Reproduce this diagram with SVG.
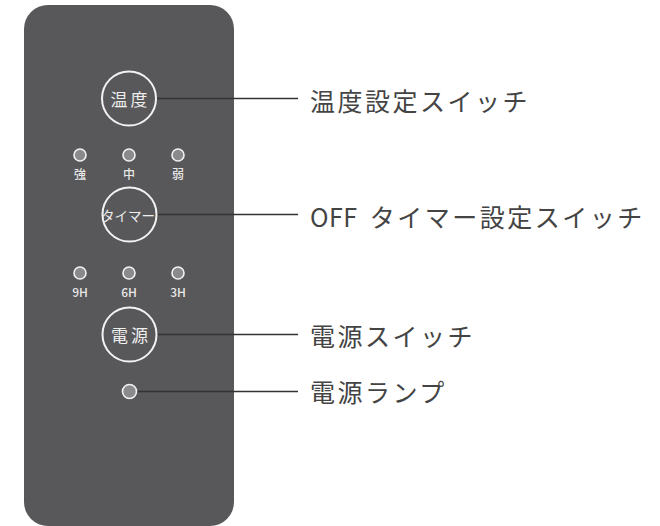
<svg xmlns="http://www.w3.org/2000/svg" width="660" height="526" viewBox="0 0 660 526">
<style>
.btn{fill:none;stroke:#f2f2f2;stroke-width:2}
.led{fill:#8a8a8c;stroke:#f2f2f2;stroke-width:1.6}
.btxt{fill:#eeeeee;font-family:"Noto Sans CJK JP","Noto Sans",sans-serif;text-anchor:middle;dominant-baseline:central}
.small{fill:#e8e8e8;font-family:"Noto Sans CJK JP","Noto Sans",sans-serif;font-size:12px;font-weight:500;text-anchor:middle;dominant-baseline:central}
.lbl{fill:#444444;font-family:"Noto Sans CJK JP","Noto Sans",sans-serif;font-size:25px;letter-spacing:2.5px;dominant-baseline:central}
.conn{stroke:#333333;stroke-width:1.4;fill:none}
</style>
<rect x="24" y="5" width="210" height="521" rx="24" fill="#58585a"/>
<g id="connectors">
<line class="conn" x1="157" y1="98.5" x2="298" y2="98.5"/>
<line class="conn" x1="157" y1="214.5" x2="298" y2="214.5"/>
<line class="conn" x1="157" y1="334.5" x2="298" y2="334.5"/>
<line class="conn" x1="137" y1="391.5" x2="298" y2="391.5"/>
</g>
<g id="temp-switch">
<circle class="btn" cx="129" cy="98.5" r="27"/>
<text class="btxt" x="130.5" y="98.5" font-size="17" letter-spacing="3">温度</text>
</g>
<g id="temp-leds">
<circle class="led" cx="80" cy="155" r="6"/>
<circle class="led" cx="129" cy="155" r="6"/>
<circle class="led" cx="178" cy="155" r="6"/>
<text class="small" x="80" y="173">強</text>
<text class="small" x="129" y="173">中</text>
<text class="small" x="178" y="173">弱</text>
</g>
<g id="timer-switch">
<circle class="btn" cx="129.5" cy="214.5" r="27"/>
<text class="btxt" x="128" y="214.5" font-size="13.5">タイマー</text>
</g>
<g id="timer-leds">
<circle class="led" cx="80" cy="273" r="6"/>
<circle class="led" cx="129" cy="273" r="6"/>
<circle class="led" cx="178" cy="273" r="6"/>
<text class="small" x="80" y="291">9H</text>
<text class="small" x="129" y="291">6H</text>
<text class="small" x="178" y="291">3H</text>
</g>
<g id="power-switch">
<circle class="btn" cx="129.5" cy="334.5" r="27"/>
<text class="btxt" x="131" y="334.5" font-size="17" letter-spacing="3">電源</text>
</g>
<g id="power-lamp">
<circle class="led" cx="129.5" cy="391.5" r="7"/>
</g>
<g id="labels">
<text class="lbl" x="310" y="100">温度設定スイッチ</text>
<text class="lbl" x="310" y="216"><tspan letter-spacing="0.5">OFF</tspan><tspan dx="4"> タイマー設定スイッチ</tspan></text>
<text class="lbl" x="310" y="335">電源スイッチ</text>
<text class="lbl" x="310" y="391">電源ランプ</text>
</g>
</svg>
